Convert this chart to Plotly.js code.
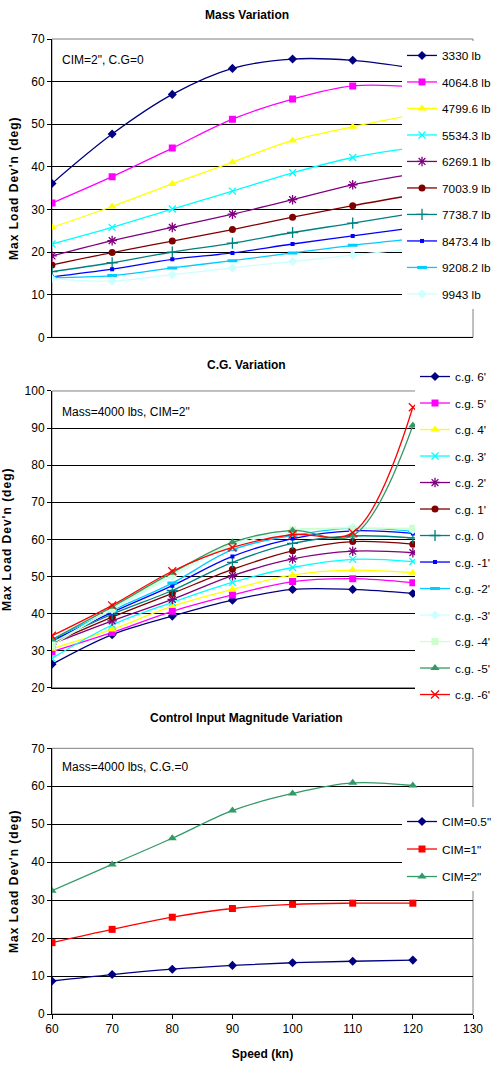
<!DOCTYPE html>
<html>
<head>
<meta charset="utf-8">
<script src="https://cdn.plot.ly/plotly-3.0.1.min.js"></script>
<style>
html,body{margin:0;padding:0;background:#fff;overflow:hidden;}
#chart{width:491px;height:1076px;overflow:hidden;}
</style>
</head>
<body>
<div id="chart"></div>
<script>
// ---------- DATA ----------
const speeds = [60, 70, 80, 90, 100, 110, 120];

// Chart 1: Mass Variation (CIM=2", C.G=0)
const massLabels = ["3330 lb", "4064.8 lb", "4799.6 lb", "5534.3 lb", "6269.1 lb",
                    "7003.9 lb", "7738.7 lb", "8473.4 lb", "9208.2 lb", "9943 lb"];
const mass3330   = [36.1, 47.7, 57.0, 63.1, 65.3, 65.0, 63.2];
const mass4064_8 = [31.5, 37.7, 44.4, 51.2, 55.9, 59.0, 58.8];
const mass4799_6 = [25.8, 30.7, 36.0, 41.1, 46.2, 49.4, 52.2];
const mass5534_3 = [21.9, 25.8, 30.1, 34.3, 38.6, 42.2, 44.5];
const mass6269_1 = [19.1, 22.7, 25.8, 28.9, 32.3, 35.8, 38.3];
const mass7003_9 = [17.0, 19.9, 22.6, 25.3, 28.2, 30.9, 33.4];
const mass7738_7 = [15.4, 17.5, 20.0, 22.1, 24.6, 26.8, 29.1];
const mass8473_4 = [14.2, 16.0, 18.3, 19.8, 21.9, 23.8, 25.7];
const mass9208_2 = [14.0, 14.5, 16.3, 18.0, 19.8, 21.6, 23.1];
const mass9943   = [13.8, 13.2, 14.7, 16.3, 17.8, 19.3, 20.8];
const massSeries = [mass3330, mass4064_8, mass4799_6, mass5534_3, mass6269_1,
                    mass7003_9, mass7738_7, mass8473_4, mass9208_2, mass9943];

// Chart 2: C.G. Variation (Mass=4000 lbs, CIM=2")
const cgLabels = ["c.g. 6'", "c.g. 5'", "c.g. 4'", "c.g. 3'", "c.g. 2'", "c.g. 1'", "c.g. 0",
                  "c.g. -1'", "c.g. -2'", "c.g. -3'", "c.g. -4'", "c.g. -5'", "c.g. -6'"];
const cgP6 = [26.3, 34.3, 39.3, 43.6, 46.5, 46.5, 45.4];
const cgP5 = [29.7, 34.9, 40.6, 45.0, 48.6, 49.4, 48.3];
const cgP4 = [30.5, 35.7, 42.0, 46.5, 50.4, 51.7, 51.0];
const cgP3 = [27.9, 36.9, 43.0, 48.4, 52.4, 54.6, 54.0];
const cgP2 = [31.8, 38.0, 43.8, 50.2, 54.7, 56.8, 56.4];
const cgP1 = [32.0, 39.0, 45.4, 51.9, 56.9, 59.4, 58.7];
const cg0  = [32.5, 39.8, 46.2, 53.8, 58.9, 60.9, 60.4];
const cgM1 = [32.7, 40.3, 47.5, 55.4, 60.2, 62.3, 61.6];
const cgM2 = [33.0, 40.8, 48.2, 57.2, 61.0, 63.0, 62.2];
const cgM3 = [32.0, 41.0, 50.0, 58.3, 62.0, 63.3, 62.5];
const cgM4 = [31.3, 41.3, 50.5, 58.8, 62.6, 62.8, 63.0];
const cgM5 = [33.0, 41.8, 51.0, 59.2, 62.4, 61.0, 90.7];
const cgM6 = [34.0, 42.2, 51.4, 57.8, 61.3, 61.8, 95.6];
const cgSeries = [cgP6, cgP5, cgP4, cgP3, cgP2, cgP1, cg0, cgM1, cgM2, cgM3, cgM4, cgM5, cgM6];

// Chart 3: Control Input Magnitude Variation (Mass=4000 lbs, C.G.=0)
const cimLabels = ['CIM=0.5"', 'CIM=1"', 'CIM=2"'];
const cim05 = [8.7, 10.4, 11.8, 12.8, 13.5, 13.9, 14.2];
const cim1  = [18.8, 22.3, 25.5, 27.8, 28.9, 29.2, 29.2];
const cim2  = [32.5, 39.4, 46.3, 53.6, 58.1, 60.9, 60.2];
const cimSeries = [cim05, cim1, cim2];

// ---------- STYLES ----------
const massStyles = [
  {c:'#000080', s:'diamond', z:7},
  {c:'#FF00FF', s:'square', z:7},
  {c:'#FFFF00', s:'triangle-up', z:8},
  {c:'#00FFFF', s:'x-thin-open', z:7},
  {c:'#800080', s:'asterisk-open', z:8},
  {c:'#800000', s:'circle', z:7},
  {c:'#008080', s:'cross-thin-open', z:8},
  {c:'#0000FF', s:'square', z:4},
  {c:'#00CCFF', s:'line-ew-open', z:7},
  {c:'#CCFFFF', s:'diamond', z:7}
];
const cgStyles = massStyles.concat([
  {c:'#CCFFCC', s:'square', z:7},
  {c:'#339966', s:'triangle-up', z:8},
  {c:'#FF0000', s:'x-thin-open', z:8}
]);
const cimStyles = [
  {c:'#000080', s:'diamond', z:7},
  {c:'#FF0000', s:'square', z:7},
  {c:'#339966', s:'triangle-up', z:8}
];

function mk(names, series, styles, xa, ya, leg, grp) {
  return series.map((ys, i) => {
    const st = styles[i];
    const open = st.s.indexOf('open') >= 0;
    return {
      type: 'scatter', mode: 'lines+markers',
      x: speeds, y: ys, name: names[i],
      xaxis: xa, yaxis: ya, legend: leg, legendgroup: grp + i,
      line: {color: st.c, width: 1.3, shape: 'spline', smoothing: 1},
      marker: {symbol: st.s, size: st.z, color: st.c,
               line: {color: st.c, width: open ? (st.s === 'line-ew-open' ? 3 : 1.3) : 0}},
      cliponaxis: true
    };
  });
}

const traces = []
  .concat(mk(massLabels, massSeries, massStyles, 'x', 'y', 'legend', 'm'))
  .concat(mk(cgLabels, cgSeries, cgStyles, 'x2', 'y2', 'legend2', 'c'))
  .concat(mk(cimLabels, cimSeries, cimStyles, 'x3', 'y3', 'legend3', 'i'));

// ---------- LAYOUT ----------
const FONT = 'Liberation Sans, Arial, sans-serif';
const yTitle = "Max Load Dev'n (deg)";
const XDOM = [0, 421 / 439];

function xax(anchor, last) {
  return {
    anchor: anchor, domain: XDOM, range: [60, 130], dtick: 10, tick0: 60,
    showgrid: false, zeroline: false, showline: true, linecolor: '#000', linewidth: 1,
    ticks: last ? 'outside' : '', ticklen: 4, tickcolor: '#000',
    showticklabels: !!last,
    tickfont: {family: FONT, size: 12, color: '#000'},
    title: last ? {text: 'Speed (kn)', font: {family: FONT, size: 12, color: '#000', weight: 'bold'}, standoff: 14} : {text: ''}
  };
}
function yax(anchor, dom, rng) {
  return {
    anchor: anchor, domain: dom, range: rng, dtick: 10,
    showgrid: true, gridcolor: '#000', gridwidth: 1, zeroline: false,
    showline: true, linecolor: '#000', linewidth: 1,
    ticks: 'outside', ticklen: 4, tickcolor: '#000',
    tickfont: {family: FONT, size: 12, color: '#000'},
    title: {text: yTitle, font: {family: FONT, size: 12, color: '#000', weight: 'bold'}, standoff: 10}
  };
}
function legendAt(x, y, gap) {
  return {
    x: x, y: y, xanchor: 'left', yanchor: 'top', xref: 'paper', yref: 'paper',
    bgcolor: '#fff', borderwidth: 0, traceorder: 'grouped', tracegroupgap: gap,
    font: {family: FONT, size: 11.8, color: '#000'}, itemwidth: 30
  };
}
function border(xr, yr) {
  return {type: 'rect', xref: xr + ' domain', yref: yr + ' domain', x0: 0, x1: 1, y0: 0, y1: 1,
          line: {color: '#808080', width: 1}, layer: 'below'};
}
function ttl(text, y) {
  return {text: '<b>' + text + '</b>', xref: 'paper', yref: 'paper', x: 0.444, y: y,
          xanchor: 'center', yanchor: 'middle', showarrow: false,
          font: {family: FONT, size: 12, color: '#000'}};
}
function note(text, xr, yr, y) {
  return {text: text, xref: xr + ' domain', yref: yr + ' domain', x: 0.02, y: y,
          xanchor: 'left', yanchor: 'middle', showarrow: false,
          font: {family: FONT, size: 12, color: '#000'}};
}

const layout = {
  width: 491, height: 1076,
  margin: {l: 52, r: 0, t: 39, b: 62, autoexpand: false},
  paper_bgcolor: '#fff', plot_bgcolor: '#fff',
  font: {family: FONT, size: 12, color: '#000'},
  showlegend: true,
  xaxis: xax('y', false),
  yaxis: yax('x', [0.694, 1], [0, 70]),
  xaxis2: xax('y2', false),
  yaxis2: yax('x2', [0.3347, 0.639], [20, 100]),
  xaxis3: xax('y3', true),
  yaxis3: yax('x3', [0, 0.2725], [0, 70]),
  legend: legendAt(0.7973, 0.998, 7.5),
  legend2: legendAt(0.8269, 0.6687, 7.5),
  legend3: legendAt(0.7973, 0.2123, 8.5),
  shapes: [border('x', 'y'), border('x2', 'y2'), border('x3', 'y3')],
  annotations: [
    ttl('Mass Variation', 1.0246),
    ttl('C.G. Variation', 0.6656),
    ttl('Control Input Magnitude Variation', 0.3036),
    note('CIM=2", C.G=0', 'x', 'y', 0.93),
    note('Mass=4000 lbs, CIM=2"', 'x2', 'y2', 0.93),
    note('Mass=4000 lbs, C.G.=0', 'x3', 'y3', 0.93)
  ]
};

Plotly.newPlot('chart', traces, layout, {displayModeBar: false, staticPlot: true}).then(() => {
  document.querySelectorAll('.g-ytitle text, .g-y2title text, .g-y3title text').forEach(t => {
    t.setAttribute('letter-spacing', '1px');
  });
});
</script>
</body>
</html>
